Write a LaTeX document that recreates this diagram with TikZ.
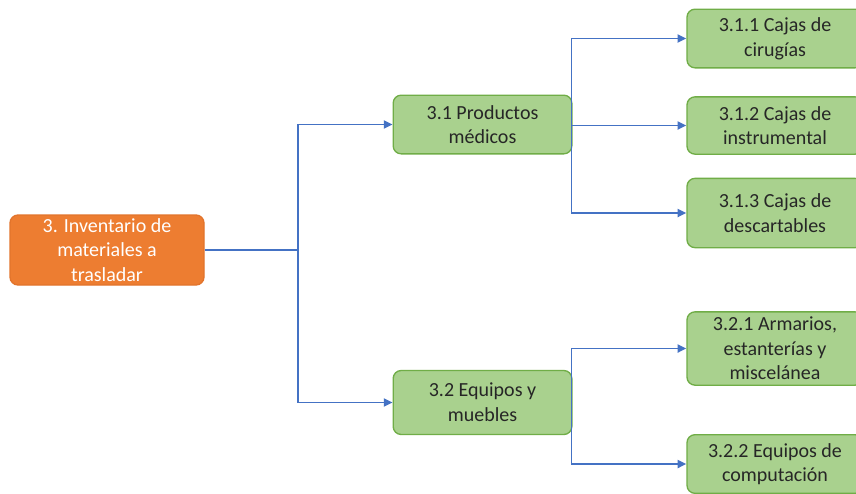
\documentclass[tikz,border=0pt]{standalone}
\usepackage{fontspec}
\setmainfont{Carlito}
\usetikzlibrary{arrows.meta}
\definecolor{rootfill}{HTML}{ED7D31}
\definecolor{rootline}{HTML}{E2742C}
\definecolor{leaffill}{HTML}{A9D18E}
\definecolor{leafline}{HTML}{70AD47}
\definecolor{linkblue}{HTML}{4472C4}
\definecolor{inktext}{HTML}{262626}
\tikzset{
  box/.style={rounded corners=6pt, line width=1pt, align=center, inner sep=0pt,
    font=\fontsize{15}{18.5}\selectfont},
  rootbox/.style={box, fill=rootfill, draw=rootline, text=white,
    minimum width=145.5pt, minimum height=52.5pt},
  greenbox/.style={box, fill=leaffill, draw=leafline, text=inktext,
    minimum width=134pt},
  conn/.style={draw=linkblue, line width=1.4pt,
    -{Triangle[length=6.5pt,width=6pt]}}
}
\begin{document}
\begin{tikzpicture}[x=0.75pt,y=-0.75pt]
  \useasboundingbox (0,0) rectangle (856,493);
  \clip (0,0) rectangle (856,493);
  \fill[white] (0,0) rectangle (856,493);

  % root
  \node[rootbox] (root) at (107,250) {3. Inventario de\\materiales a\\trasladar};

  % second level
  \node[greenbox, minimum height=44pt] (p31) at (482.5,124.5) {3.1 Productos\\médicos};
  \node[greenbox, minimum height=48pt] (p32) at (482.5,402.5) {3.2 Equipos y\\muebles};

  % third level
  \node[greenbox, minimum width=132pt, minimum height=44pt] (c311) at (775,38.5) {3.1.1 Cajas de\\cirugías};
  \node[greenbox, minimum width=132pt, minimum height=43pt] (c312) at (775,125.5) {3.1.2 Cajas de\\instrumental};
  \node[greenbox, minimum width=132pt, minimum height=52pt] (c313) at (775,213) {3.1.3 Cajas de\\descartables};
  \node[greenbox, minimum width=132pt, minimum height=55pt] (c321) at (775,348.5) {3.2.1 Armarios,\\estanterías y\\miscelánea};
  \node[greenbox, minimum width=132pt, minimum height=44pt] (c322) at (775,464) {3.2.2 Equipos de\\computación};

  % connectors
  \draw[conn] (root.east) -- ++(93,0) |- (p31.west);
  \draw[conn] (root.east) -- ++(93,0) |- (p32.west);
  \draw[conn] (p31.east) ++(-1,0) coordinate (t31) |- (c311.west);
  \draw[conn] (t31) |- (c312.west);
  \draw[conn] (t31) |- (c313.west);
  \draw[conn] (p32.east) ++(-1,0) coordinate (t32) |- (c321.west);
  \draw[conn] (t32) |- (c322.west);
\end{tikzpicture}
\end{document}
